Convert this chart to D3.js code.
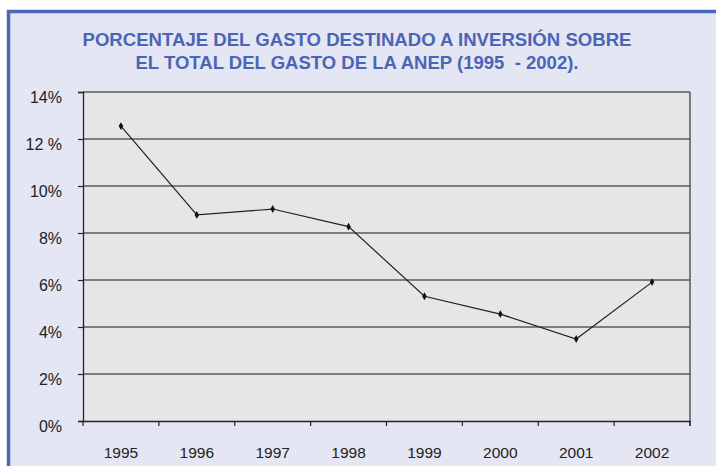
<!DOCTYPE html>
<html>
<head>
<meta charset="utf-8">
<script src="https://cdn.jsdelivr.net/npm/d3@7"></script>
<style>
  html, body { margin: 0; padding: 0; background: #ffffff; }
  svg { display: block; }
</style>
</head>
<body>
<svg id="chart" width="716" height="466"></svg>
<script>
const years = ["1995", "1996", "1997", "1998", "1999", "2000", "2001", "2002"];
const values = [12.55, 8.77, 9.02, 8.27, 5.31, 4.55, 3.49, 5.91];
const yTicks = [0, 2, 4, 6, 8, 10, 12, 14];
const yTickLabels = ["0%", "2%", "4%", "6%", "8%", "10%", "12 %", "14%"];
const titleLines = [
  "PORCENTAJE DEL GASTO DESTINADO A INVERSIÓN SOBRE",
  "EL TOTAL DEL GASTO DE LA ANEP (1995  - 2002)."
];

const svg = d3.select("#chart");
const W = 716, H = 466;

// outer panel
svg.append("rect").attr("x", 7).attr("y", 10).attr("width", W - 7).attr("height", H - 10)
  .attr("fill", "#e4e6f3");
svg.append("line").attr("x1", 7).attr("x2", W).attr("y1", 11.5).attr("y2", 11.5)
  .attr("stroke", "#4d68b8").attr("stroke-width", 3.5);
svg.append("line").attr("x1", 8.5).attr("x2", 8.5).attr("y1", 10).attr("y2", H)
  .attr("stroke", "#4d68b8").attr("stroke-width", 3.5);

// title
const titleW = [549, 443];
svg.append("g").selectAll("text").data(titleLines).join("text")
  .attr("x", 357).attr("y", (d, i) => 46 + i * 23)
  .attr("text-anchor", "middle")
  .attr("xml:space", "preserve").style("white-space", "pre")
  .attr("font-family", "'Liberation Sans Narrow', 'Arial Narrow', 'Liberation Sans', Arial, sans-serif")
  .attr("font-weight", "bold").attr("font-size", 18)
  .attr("fill", "#4a65b5")
  .attr("textLength", (d, i) => titleW[i]).attr("lengthAdjust", "spacingAndGlyphs")
  .text(d => d);

const m = { left: 83, right: 690, top: 92, bottom: 421 };
const x = d3.scaleBand().domain(years).range([m.left, m.right]);
const y = d3.scaleLinear().domain([0, 14]).range([m.bottom, m.top]);

// plot background
svg.append("rect").attr("x", m.left).attr("y", m.top)
  .attr("width", m.right - m.left).attr("height", m.bottom - m.top)
  .attr("fill", "#e6e6e8");

// gridlines
svg.append("g").selectAll("line").data(yTicks.filter(t => t > 0)).join("line")
  .attr("x1", m.left).attr("x2", m.right)
  .attr("y1", d => y(d)).attr("y2", d => y(d))
  .attr("stroke", "#5a5a5a").attr("stroke-width", 1.3);

// right border of plot
svg.append("line").attr("x1", m.right).attr("x2", m.right)
  .attr("y1", m.top).attr("y2", m.bottom + 5)
  .attr("stroke", "#333").attr("stroke-width", 1.2);

// y axis
const yAxis = svg.append("g").attr("transform", `translate(${m.left},0)`)
  .call(d3.axisLeft(y).tickValues(yTicks).tickSize(5).tickPadding(16)
    .tickFormat((d, i) => yTickLabels[i]));
yAxis.select(".domain").attr("stroke", "#222").attr("stroke-width", 1.3);
yAxis.selectAll(".tick line").attr("stroke", "#222").attr("stroke-width", 1.2);
yAxis.selectAll(".tick text")
  .attr("font-family", "'Liberation Sans', Arial, sans-serif")
  .attr("font-size", 16).attr("fill", "#222").attr("dy", "0.66em");

// x axis
const xAxis = svg.append("g").attr("transform", `translate(0,${m.bottom})`)
  .call(d3.axisBottom(x).tickSize(0).tickPadding(26));
xAxis.select(".domain").attr("stroke", "#222").attr("stroke-width", 1.5);
xAxis.selectAll(".tick text")
  .attr("font-family", "'Liberation Sans', Arial, sans-serif")
  .attr("font-size", 15.5).attr("fill", "#222");
// category boundary ticks
const bounds = years.map(d => x(d)).concat([m.right]);
svg.append("g").selectAll("line").data(bounds).join("line")
  .attr("x1", d => d).attr("x2", d => d)
  .attr("y1", m.bottom).attr("y2", m.bottom + 5)
  .attr("stroke", "#222").attr("stroke-width", 1.2);

// line
const pts = years.map((yr, i) => [x(yr) + x.bandwidth() / 2, y(values[i])]);
svg.append("path").attr("d", d3.line()(pts))
  .attr("fill", "none").attr("stroke", "#222").attr("stroke-width", 1.2);
svg.append("g").selectAll("path").data(pts).join("path")
  .attr("transform", d => `translate(${d[0]},${d[1]})`)
  .attr("d", d3.symbol(d3.symbolDiamond, 18))
  .attr("fill", "#111");
</script>
</body>
</html>
